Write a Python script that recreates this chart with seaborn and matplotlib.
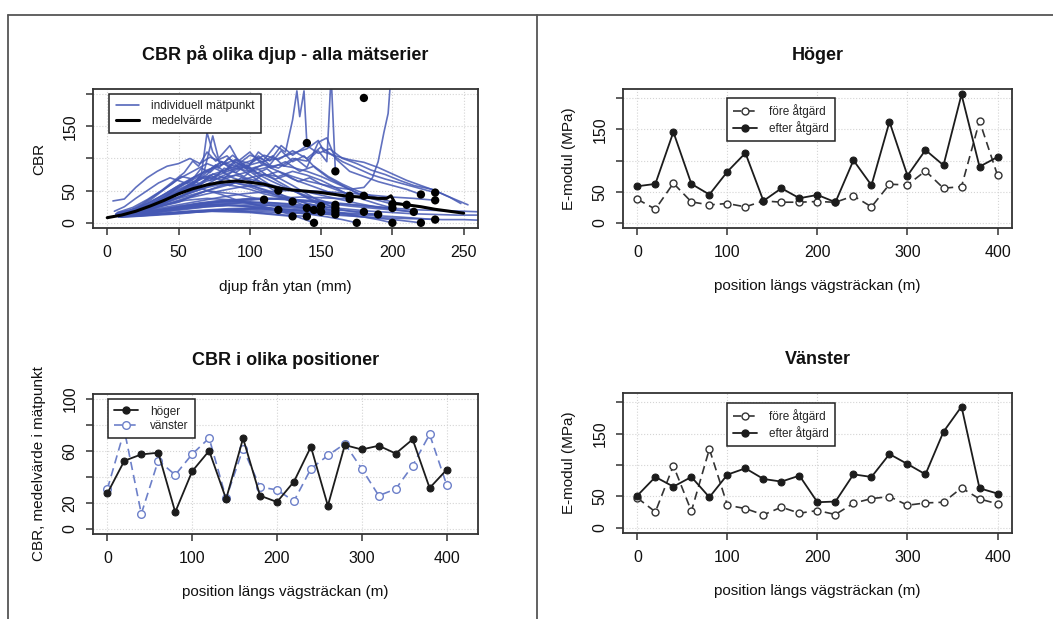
import numpy as np
import pandas as pd
import matplotlib.pyplot as plt
import seaborn as sns
from matplotlib.lines import Line2D

sns.set_theme(style="white")
plt.rcParams['font.family'] = ['Liberation Sans', 'DejaVu Sans']

# ---------------- data ----------------
# CBR profiles: (djup mm, CBR) per mätpunkt
profiles = [
    [(8,12),(20,16),(30,22),(40,30),(50,38),(60,44),(70,50),(80,47),(90,45),(100,40),(110,36)],
    [(6,10),(20,13),(30,17),(45,22),(60,26),(75,28),(90,27),(105,24),(120,20)],
    [(8,15),(20,22),(30,35),(40,52),(50,68),(60,80),(70,92),(78,85),(85,100),(95,88),(105,72),(112,62),(120,50)],
    [(7,14),(20,18),(30,24),(40,33),(50,40),(60,48),(70,55),(80,60),(90,57),(100,52),(110,45),(120,40),(130,33)],
    [(10,9),(25,11),(40,14),(55,17),(70,18),(85,17),(100,16),(115,13),(130,10)],
    [(6,13),(20,16),(35,20),(50,26),(65,31),(80,35),(95,34),(110,30),(125,27),(140,23)],
    [(8,11),(20,12),(35,14),(50,16),(65,18),(80,20),(95,18),(110,15),(125,12),(140,10)],
    [(8,16),(20,20),(30,28),(40,40),(50,55),(60,70),(70,80),(80,95),(90,88),(100,105),(110,98),(118,120),
     (125,110),(130,160),(133,205),(135,165),(138,205),(140,124)],
    [(10,14),(25,20),(40,28),(55,35),(70,38),(85,36),(100,30),(115,22),(130,12),(145,0)],
    [(7,12),(20,15),(35,19),(50,24),(65,30),(80,33),(95,32),(110,28),(125,24),(145,20)],
    [(9,10),(25,13),(40,18),(55,22),(70,25),(85,27),(100,26),(115,23),(130,20),(150,17)],
    [(4,34),(12,37),(20,55),(28,70),(35,80),(42,88),(50,92),(58,100),(65,92),(72,102),(80,95),(88,85),
     (95,92),(105,78),(115,70),(125,58),(135,45),(143,35),(150,26)],
    [(8,9),(20,11),(35,13),(50,15),(65,17),(80,19),(95,18),(110,17),(125,16),(140,14),(160,13)],
    [(6,11),(20,16),(35,24),(50,32),(60,42),(70,50),(80,56),(90,62),(100,58),(110,52),(120,45),(130,38),
     (140,30),(150,24),(160,18)],
    [(9,13),(20,17),(30,24),(40,35),(50,48),(60,60),(68,72),(75,68),(82,85),(90,78),(98,90),(106,75),
     (115,65),(125,55),(135,45),(145,35),(160,23)],
    [(7,15),(20,20),(30,27),(40,36),(50,45),(60,55),(70,65),(80,70),(90,74),(100,68),(110,62),(120,56),
     (130,50),(140,42),(150,35),(160,28)],
    [(10,14),(20,18),(30,25),(40,34),(50,44),(60,56),(70,68),(80,76),(90,85),(100,80),(110,92),(120,85),
     (130,100),(140,96),(148,112),(154,95),(157,230),(160,80)],
    [(8,12),(20,16),(30,22),(40,28),(50,35),(60,42),(70,50),(80,58),(90,64),(100,70),(110,75),(120,72),
     (130,80),(140,74),(150,66),(160,55),(170,42)],
    [(9,13),(20,15),(30,18),(45,22),(60,26),(75,30),(90,33),(105,36),(120,38),(135,40),(150,39),(160,38),(170,37)],
    [(8,11),(20,14),(35,18),(50,23),(65,27),(80,28),(95,26),(110,22),(125,18),(140,14),(155,9),(165,5),(175,0)],
    [(7,14),(20,18),(30,24),(40,32),(50,40),(60,50),(70,58),(80,66),(90,74),(100,80),(110,85),(120,90),
     (130,86),(140,80),(150,72),(160,62),(170,52),(180,42)],
    [(9,10),(25,13),(40,17),(55,21),(70,25),(85,27),(100,28),(115,27),(130,25),(145,22),(160,20),(180,17)],
    [(8,9),(20,10),(35,12),(50,14),(65,17),(80,19),(95,21),(110,22),(125,21),(140,19),(155,17),(170,15),(190,13)],
    [(10,12),(25,15),(40,19),(55,23),(70,27),(85,30),(100,32),(115,31),(130,28),(145,23),(160,17),(175,11),
     (190,5),(200,0)],
    [(8,15),(20,20),(30,28),(40,38),(50,50),(60,62),(70,75),(76,90),(82,80),(90,98),(98,86),(106,104),
     (114,90),(122,112),(130,95),(138,104),(146,85),(155,70),(165,58),(175,46),(185,38),(200,29)],
    [(7,12),(20,15),(35,19),(50,24),(65,29),(80,33),(95,36),(110,38),(125,37),(140,35),(155,32),(170,29),
     (185,26),(200,23)],
    [(9,14),(20,18),(30,25),(40,35),(50,46),(60,58),(66,75),(70,140),(74,110),(80,90),(88,105),(95,92),
     (105,100),(115,85),(125,95),(135,80),(145,88),(155,72),(165,60),(175,50),(185,42),(195,35),(210,28)],
    [(8,13),(20,16),(35,20),(50,25),(65,30),(80,34),(95,37),(110,38),(125,36),(140,33),(155,30),(170,26),
     (185,23),(200,20),(215,17)],
    [(10,10),(25,12),(40,15),(55,18),(70,20),(85,22),(100,23),(115,22),(130,20),(145,17),(160,14),(175,10),
     (190,7),(205,4),(220,0)],
    [(6,14),(20,18),(30,26),(40,36),(50,48),(60,60),(68,80),(74,135),(78,100),(86,120),(92,96),(100,110),
     (108,92),(116,104),(124,88),(132,100),(140,86),(148,125),(154,132),(160,100),(170,80),(180,72),
     (190,64),(200,58),(210,52),(220,44)],
    [(9,16),(20,22),(30,32),(40,44),(50,58),(60,70),(70,82),(80,90),(90,98),(100,92),(110,105),(120,98),
     (130,112),(140,100),(150,118),(158,105),(165,95),(175,85),(185,75),(195,68),(205,62),(215,56),(230,47)],
    [(8,13),(20,17),(35,22),(50,28),(65,34),(80,40),(95,45),(110,48),(125,50),(140,50),(155,48),(170,46),
     (185,43),(200,40),(215,38),(230,35)],
    [(10,10),(25,12),(40,14),(55,17),(70,19),(85,21),(100,22),(115,21),(130,19),(145,17),(160,15),(175,13),
     (190,11),(205,9),(218,7),(230,5)],
    [(7,11),(20,14),(35,18),(50,22),(65,26),(80,29),(95,31),(110,32),(125,30),(140,27),(155,24),(170,21),
     (185,18),(200,16),(215,14),(230,13),(245,12),(262,12)],
    [(9,10),(25,12),(40,14),(55,16),(70,18),(85,19),(100,20),(115,19),(130,17),(145,15),(160,12),(175,10),
     (190,8),(205,7),(220,6),(235,5),(250,5),(262,4)],
    [(8,14),(20,19),(30,27),(40,37),(50,48),(58,60),(66,72),(74,86),(82,78),(90,95),(98,84),(106,110),
     (114,96),(122,120),(130,105),(140,120),(148,108),(156,115),(165,100),(175,92),(185,82),(195,75),
     (205,66),(215,58),(228,52),(238,42),(253,28)],
    [(10,12),(25,15),(40,20),(55,25),(70,30),(85,34),(100,37),(115,38),(130,36),(145,33),(160,30),(175,27),
     (190,24),(205,22),(220,20),(235,19),(250,18),(262,17)],
    [(8,15),(20,20),(30,28),(40,40),(50,52),(60,62),(70,72),(80,80),(90,88),(100,84),(110,90),(120,80),
     (130,72),(140,65),(150,60),(160,55),(170,52),(180,55),(186,70),(190,95),(194,140),(197,170),(199,230)],
    [(7,13),(20,17),(30,23),(40,31),(50,40),(60,50),(70,60),(80,72),(90,82),(100,90),(110,96),(120,100),
     (130,108),(140,115),(148,128),(152,110),(160,104),(170,98),(180,94),(190,86),(200,76),(210,66),
     (220,58),(230,50),(240,40),(248,30)],
    [(6,12),(15,18),(25,30),(35,45),(45,60),(52,72),(60,68),(66,85),(72,78),(80,95),(88,82),(96,90),
     (104,76),(112,84),(120,70),(130,58),(140,45),(150,32),(160,23)],
    [(8,14),(18,20),(28,30),(38,42),(48,55),(56,64),(64,58),(72,74),(80,66),(88,80),(96,72),(104,86),
     (112,74),(120,80),(130,68),(140,60),(150,52),(160,44),(170,37)],
    [(10,13),(22,18),(34,26),(46,36),(58,46),(68,54),(78,62),(86,58),(94,70),(102,64),(110,76),(118,68),
     (126,74),(134,64),(142,70),(150,60),(160,52),(170,44),(180,36),(190,29),(200,23)],
    [(7,16),(18,24),(28,36),(38,50),(46,64),(54,78),(60,96),(64,88),(70,110),(76,96),(84,104),(92,86),
     (100,74),(110,60),(120,46),(130,35),(145,20)],
    [(9,12),(20,18),(30,28),(40,40),(48,52),(56,62),(64,72),(72,66),(80,80),(88,70),(96,64),(106,54),
     (118,44),(130,33)],
    [(8,12),(20,16),(32,22),(44,30),(56,38),(68,44),(80,50),(92,55),(104,58),(116,56),(128,52),(140,48),
     (152,42),(164,36),(176,30),(188,25),(200,21),(215,17)],
    [(10,15),(20,20),(30,30),(40,42),(50,56),(58,66),(66,60),(74,76),(82,70),(90,62),(100,56),(110,48),
     (120,42),(130,36),(140,30),(150,26),(160,22),(170,18),(180,15),(190,13)],
    [(5,18),(12,25),(20,38),(28,50),(36,62),(44,70),(52,64),(60,58),(70,50),(80,44),(90,36),(100,30),
     (110,25),(120,20)],
]

# slutpunkter (svarta prickar)
dot_depth = [110, 120, 120, 130, 130, 140, 140, 140, 145, 145, 150, 150, 160, 160, 160, 160, 160,
             170, 170, 175, 180, 180, 180, 190, 200, 200, 200, 210, 215, 220, 220, 230, 230, 230]
dot_cbr = [36, 20, 50, 33, 10, 23, 10, 124, 0, 20, 17, 26, 13, 18, 23, 28, 80,
           42, 37, 0, 194, 42, 17, 13, 0, 29, 23, 28, 17, 0, 44, 47, 35, 5]

mean_depth = [0, 10, 20, 30, 40, 50, 60, 70, 80, 90, 100, 110, 120, 130, 140, 150, 160, 170,
              180, 190, 196, 199, 202, 210, 220, 230, 240, 250]
mean_cbr = [8, 12, 18, 26, 35, 45, 53, 59, 63, 65, 63, 60, 54, 51, 49, 47, 44, 41,
            40, 38, 38, 42, 30, 28, 25, 21, 18, 15]

positions = [0, 20, 40, 60, 80, 100, 120, 140, 160, 180, 200, 220, 240, 260, 280, 300, 320, 340, 360, 380, 400]

cbr_hoger = [27.4, 52.5, 57.4, 58.7, 12.9, 44.4, 60.2, 23.0, 69.8, 25.6, 20.7, 36.4, 63.3, 17.8,
             64.6, 61.2, 64.1, 58.1, 69.0, 31.5, 45.5]
cbr_vanster = [30.7, 76.0, 11.6, 52.7, 41.6, 57.6, 70.0, 23.5, 61.8, 32.3, 30.0, 21.4, 46.3, 56.6,
               65.6, 46.3, 25.6, 30.7, 48.8, 72.9, 34.1]

hoger_fore = [37.9, 21.9, 63.5, 33.6, 28.8, 31.0, 25.6, 35.2, 33.1, 33.1, 34.2, 33.0, 43.2, 25.6,
              61.9, 60.9, 83.3, 55.5, 58.2, 163.4, 76.3]
hoger_efter = [58.7, 62.5, 145.8, 62.5, 45.4, 82.2, 112.1, 35.2, 55.5, 39.5, 44.8, 33.1, 100.4, 60.3,
               162.3, 75.8, 116.9, 92.4, 206.1, 90.2, 105.7]

vanster_fore = [47.7, 25.4, 99.1, 26.5, 125.6, 36.0, 30.7, 20.7, 32.9, 23.3, 27.6, 21.2, 39.2, 46.6,
                49.8, 36.0, 39.7, 40.8, 63.6, 46.1, 38.2]
vanster_efter = [51.4, 81.1, 65.7, 81.1, 48.8, 84.8, 94.9, 77.9, 73.7, 83.2, 40.8, 41.9, 85.3, 81.1,
                 117.6, 101.7, 85.3, 153.2, 193.4, 63.1, 54.6]

BLUE = '#4558b4'
LBLUE = '#6d80c9'
DARK = '#1c1c1c'
DASH = (0, (5, 3))

fig = plt.figure(figsize=(10.53, 6.19), dpi=100)
fig.patch.set_facecolor('white')

ax1 = fig.add_axes([0.0883, 0.6317, 0.3656, 0.2246])
ax2 = fig.add_axes([0.5916, 0.6317, 0.3694, 0.2246])
ax3 = fig.add_axes([0.0883, 0.1373, 0.3656, 0.2262])
ax4 = fig.add_axes([0.5916, 0.1389, 0.3694, 0.2262])


def r_axes(ax, xlim, ylim, xticks, yticks, ylabels, title, xlabel, ylabel):
    ax.set_xlim(xlim)
    ax.set_ylim(ylim)
    ax.set_xticks(xticks)
    ax.set_yticks(yticks)
    ax.set_yticklabels(ylabels)
    for lab in ax.get_yticklabels():
        lab.set_rotation(90)
        lab.set_va('center')
    ax.set_axisbelow(True)
    ax.grid(True, color='#d4d4d4', ls=':', lw=0.8)
    for s in ax.spines.values():
        s.set_visible(True)
        s.set_color('#333333')
        s.set_linewidth(1.3)
    ax.tick_params(direction='out', length=5, width=1.1, color='#333333', labelsize=11.5,
                   labelcolor='#111111', pad=7, bottom=True, left=True)
    ax.tick_params(axis='y', pad=6)
    ax.set_title(title, fontsize=13, fontweight='bold', pad=21, color='#111111')
    ax.set_xlabel(xlabel, fontsize=11, labelpad=14, color='#111111')
    ax.set_ylabel(ylabel, fontsize=11, labelpad=12, color='#111111')


def r_legend(ax, handles, labels, anchor):
    leg = ax.legend(handles, labels, loc='upper left', bbox_to_anchor=anchor, borderaxespad=0,
                    fontsize=8.5, frameon=True, fancybox=False, edgecolor='#222222', framealpha=1,
                    handlelength=2.0, labelspacing=0.2, borderpad=0.55, handletextpad=1.0)
    leg.get_frame().set_linewidth(1.1)
    return leg


# --- CBR på olika djup ---
rows = [(i, d, v) for i, prof in enumerate(profiles) for d, v in prof]
df_prof = pd.DataFrame(rows, columns=['serie', 'djup', 'cbr'])
sns.lineplot(data=df_prof, x='djup', y='cbr', units='serie', estimator=None, sort=False,
             color=BLUE, lw=1.2, alpha=0.85, legend=False, ax=ax1)
sns.lineplot(x=mean_depth, y=mean_cbr, sort=False, color='black', lw=2.2, ax=ax1)
sns.scatterplot(x=dot_depth, y=dot_cbr, color='black', s=36, edgecolor='none', zorder=4, ax=ax1)
r_axes(ax1, (-10, 260), (-8, 208), [0, 50, 100, 150, 200, 250], [0, 50, 100, 150, 200],
       ['0', '50', '', '150', ''], 'CBR på olika djup - alla mätserier', 'djup från ytan (mm)', 'CBR')
r_legend(ax1, [Line2D([], [], color=BLUE, lw=1.1), Line2D([], [], color='black', lw=2.2)],
         ['individuell mätpunkt', 'medelvärde'], (0.042, 0.964))

# --- Höger ---
sns.lineplot(x=positions, y=hoger_fore, color='#333333', lw=1.2, linestyle=DASH, marker='o',
             markersize=5, markerfacecolor='white', markeredgecolor='#333333', markeredgewidth=1.0, ax=ax2)
sns.lineplot(x=positions, y=hoger_efter, color=DARK, lw=1.3, marker='o', markersize=5,
             markerfacecolor=DARK, markeredgecolor=DARK, ax=ax2)
r_axes(ax2, (-16, 416), (-8.3, 215), [0, 100, 200, 300, 400], [0, 50, 100, 150, 200],
       ['0', '50', '', '150', ''], 'Höger', 'position längs vägsträckan (m)', 'E-modul (MPa)')
h_fore = Line2D([], [], color='#333333', lw=1.2, ls=DASH, marker='o', ms=5, mfc='white', mec='#333333')
h_efter = Line2D([], [], color=DARK, lw=1.3, marker='o', ms=5, mfc=DARK, mec=DARK)
r_legend(ax2, [h_fore, h_efter], ['före åtgärd', 'efter åtgärd'], (0.267, 0.935))

# --- CBR i olika positioner ---
sns.lineplot(x=positions, y=cbr_vanster, color=LBLUE, lw=1.2, linestyle=DASH, marker='o',
             markersize=5.5, markerfacecolor='white', markeredgecolor=LBLUE, markeredgewidth=1.0, ax=ax3)
sns.lineplot(x=positions, y=cbr_hoger, color=DARK, lw=1.3, marker='o', markersize=5,
             markerfacecolor=DARK, markeredgecolor=DARK, ax=ax3)
r_axes(ax3, (-17, 437), (-4, 104), [0, 100, 200, 300, 400], [0, 20, 40, 60, 80, 100],
       ['0', '20', '', '60', '', '100'], 'CBR i olika positioner', 'position längs vägsträckan (m)',
       'CBR, medelvärde i mätpunkt')
l_hoger = Line2D([], [], color=DARK, lw=1.3, marker='o', ms=5, mfc=DARK, mec=DARK)
l_vanster = Line2D([], [], color=LBLUE, lw=1.2, ls=DASH, marker='o', ms=5.5, mfc='white', mec=LBLUE)
r_legend(ax3, [l_hoger, l_vanster], ['höger', 'vänster'], (0.039, 0.964))

# --- Vänster ---
sns.lineplot(x=positions, y=vanster_fore, color='#333333', lw=1.2, linestyle=DASH, marker='o',
             markersize=5, markerfacecolor='white', markeredgecolor='#333333', markeredgewidth=1.0, ax=ax4)
sns.lineplot(x=positions, y=vanster_efter, color=DARK, lw=1.3, marker='o', markersize=5,
             markerfacecolor=DARK, markeredgecolor=DARK, ax=ax4)
r_axes(ax4, (-16, 416), (-8.3, 215), [0, 100, 200, 300, 400], [0, 50, 100, 150, 200],
       ['0', '50', '', '150', ''], 'Vänster', 'position längs vägsträckan (m)', 'E-modul (MPa)')
r_legend(ax4, [h_fore, h_efter], ['före åtgärd', 'efter åtgärd'], (0.267, 0.929))

# ram runt figuren (skannad tabell)
W, H = 1053, 619
fig.add_artist(Line2D([8 / W, 1], [1 - 15 / H, 1 - 15 / H], transform=fig.transFigure, color='#555555', lw=1.3))
fig.add_artist(Line2D([8 / W, 8 / W], [0, 1 - 15 / H], transform=fig.transFigure, color='#555555', lw=1.3))
fig.add_artist(Line2D([537 / W, 537 / W], [0, 1 - 15 / H], transform=fig.transFigure, color='#555555', lw=1.3))

fig.savefig('out.png', dpi=100)
